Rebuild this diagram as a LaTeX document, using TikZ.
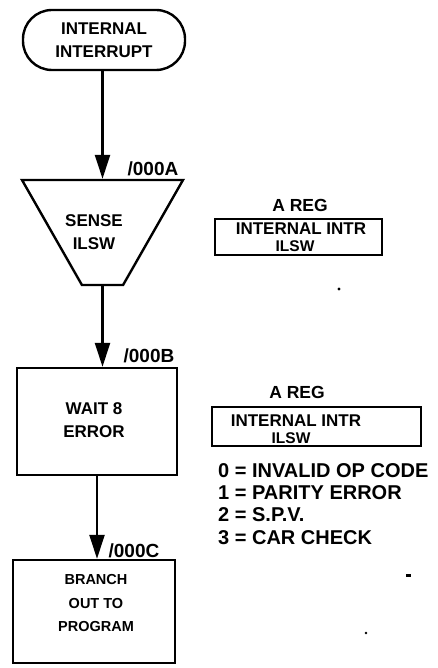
\documentclass[tikz,border=0pt]{standalone}
\usepackage{fontspec}
\setmainfont{Liberation Sans}
\usetikzlibrary{arrows.meta,shapes.geometric}
\tikzset{
  flow/.style={draw, line width=2.4pt, inner sep=0pt},
  termbox/.style={flow, rounded corners=29pt, minimum width=162pt, minimum height=60pt,
    align=center, font=\bfseries\fontsize{17}{23}\selectfont},
  trapbox/.style={flow, trapezium, shape border rotate=180, trapezium left angle=70,
    trapezium right angle=70, trapezium stretches=true, inner sep=2pt, minimum width=161pt, minimum height=105pt},
  procbox/.style={flow, rectangle},
  regbox/.style={draw, line width=2.2pt, rectangle, inner sep=0pt},
  txt/.style={align=center, inner sep=0pt, font=\bfseries\fontsize{17}{23}\selectfont},
  regtxt/.style={inner sep=0pt, font=\bfseries\fontsize{17}{17}\selectfont},
  regsub/.style={inner sep=0pt, font=\bfseries\fontsize{15.5}{16}\selectfont},
  addr/.style={inner sep=0pt, font=\bfseries\fontsize{19}{20}\selectfont},
  arr/.style={line width=2.4pt, -{Triangle[width=15pt,length=24pt]}},
  speck/.style={fill=black, draw=none}
}
\begin{document}
\begin{tikzpicture}[x=1pt,y=-1pt]
\useasboundingbox (0,0) rectangle (438,668);
% left column
\node[termbox] (term) at (104,40) {INTERNAL\\INTERRUPT};
\node[trapbox] (trap) at (102.5,232.5) {\strut};
\node[txt] (senset) at (94,232) {SENSE\\ILSW};
\node[procbox, minimum width=160pt, minimum height=107pt] (wait) at (97,421.5) {};
\node[txt] (waitt) at (94,420.5) {WAIT 8\\ERROR};
\node[procbox, minimum width=162pt, minimum height=103pt] (branch) at (94,611.5) {};
\node[txt, font=\bfseries\fontsize{14.5}{23.5}\selectfont] (brancht) at (96,603.5) {BRANCH\\OUT TO\\PROGRAM};
% addresses
\node[addr] (la) at (153,169) {/000A};
\node[addr] (lb) at (149,356) {/000B};
\node[addr] (lc) at (134,551) {/000C};
% connectors
\draw[arr] (term.south -| trap.north) -- (trap.north);
\draw[arr] (trap.south) -- (trap.south |- wait.north);
\draw[arr] (wait.south) -- (wait.south |- branch.north);
% right column
\node[txt, font=\bfseries\fontsize{17.5}{20}\selectfont] (areg1) at (300,205) {A REG};
\node[regbox, minimum width=167pt, minimum height=36pt] (reg1) at (298.5,237) {};
\node[regtxt] (reg1t) at (301,229) {INTERNAL INTR};
\node[regsub] (reg1s) at (295,246) {ILSW};
\node[txt, font=\bfseries\fontsize{17.5}{20}\selectfont] (areg2) at (297,392) {A REG};
\node[regbox, minimum width=209pt, minimum height=39pt] (reg2) at (316.5,426.5) {};
\node[regtxt] (reg2t) at (296,421) {INTERNAL INTR};
\node[regsub] (reg2s) at (291,438) {ILSW};
\node[align=left, inner sep=0pt, anchor=north west, font=\bfseries\fontsize{20}{22.3}\selectfont] (codes) at (218,463)
  {0 = INVALID OP CODE\\1 = PARITY ERROR\\2 = S.P.V.\\3 = CAR CHECK};
% scan specks
\fill[speck] (339,289) circle (1.6);
\fill[speck] (405.5,574) rectangle (410.5,576.5);
\fill[speck] (366,633) circle (1.3);
\end{tikzpicture}
\end{document}
